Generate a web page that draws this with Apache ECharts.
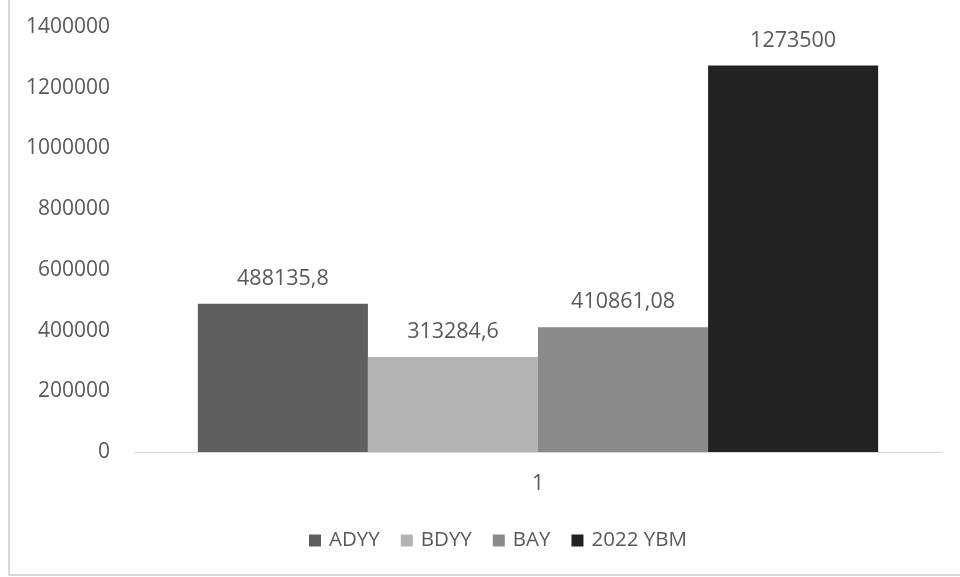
<!DOCTYPE html>
<html>
<head>
<meta charset="utf-8">
<script src="https://cdn.jsdelivr.net/npm/echarts@6/dist/echarts.min.js"></script>
<style>html,body{margin:0;padding:0;background:#fff}#c{width:960px;height:577px}</style>
</head>
<body>
<div id="c"></div>
<script>
const categories = ['1'];
const seriesNames = ['ADYY', 'BDYY', 'BAY', '2022 YBM'];
const adyy = [488135.8];
const bdyy = [313284.6];
const bay = [410861.08];
const ybm = [1273500];
const colors = ['#5f5f5f', '#b3b3b3', '#8a8a8a', '#222222'];
const yTicks = { min: 0, max: 1400000, interval: 200000 };

const font = '"Open Sans", sans-serif';
const txt = '#595959';
const values = [adyy, bdyy, bay, ybm];

const chart = echarts.init(document.getElementById('c'), null, { renderer: 'canvas' });
chart.setOption({
  animation: false,
  backgroundColor: '#fff',
  grid: { left: 134, right: 18, top: 27, bottom: 125 },
  graphic: [
    { type: 'line', shape: { x1: 9, y1: 0, x2: 9, y2: 576 }, style: { stroke: '#d9d9d9', lineWidth: 2 } },
    { type: 'line', shape: { x1: 9, y1: 575, x2: 960, y2: 575 }, style: { stroke: '#d9d9d9', lineWidth: 2 } }
  ],
  legend: {
    data: seriesNames,
    left: 304,
    top: 525,
    itemWidth: 12,
    itemHeight: 12,
    itemGap: 21,
    icon: 'rect',
    textStyle: { color: txt, fontFamily: font, fontSize: 20.5, padding: [0, 0, 0, 3] }
  },
  xAxis: {
    type: 'category',
    data: categories,
    axisLine: { lineStyle: { color: '#d9d9d9', width: 1 } },
    axisTick: { show: false },
    axisLabel: { color: txt, fontFamily: font, fontSize: 21, margin: 22 }
  },
  yAxis: {
    type: 'value',
    min: yTicks.min, max: yTicks.max, interval: yTicks.interval,
    axisLine: { show: false },
    axisTick: { show: false },
    splitLine: { show: false },
    axisLabel: { color: txt, fontFamily: font, fontSize: 21, margin: 24, formatter: v => String(v) }
  },
  series: seriesNames.map((n, i) => ({
    name: n,
    type: 'bar',
    data: values[i],
    barGap: '0%',
    barCategoryGap: '15.8%',
    itemStyle: { color: colors[i] },
    label: {
      show: true,
      position: 'top',
      distance: 14,
      color: txt,
      fontFamily: font,
      fontSize: 21.5,
      formatter: p => String(p.value).replace('.', ',')
    }
  }))
});
</script>
</body>
</html>
